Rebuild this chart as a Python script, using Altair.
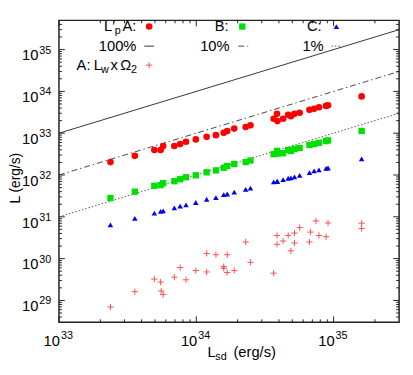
import altair as alt
import pandas as pd

W, H = 347, 308
FONT = "Liberation Sans"
X_DOMAIN = [1e33, 3e35]
Y_DOMAIN = [3e28, 5e35]

# Spin-down luminosities shared by series A (L'p), B and C
lsd = [2.37e33, 3.57e33, 4.95e33, 5.50e33, 5.74e33, 6.92e33, 7.63e33, 8.42e33, 9.92e33,
       1.19e34, 1.39e34, 1.585e34, 1.68e34, 1.89e34, 2.29e34, 2.48e34, 3.66e34, 3.87e34,
       3.90e34, 4.29e34, 4.67e34, 4.89e34, 5.19e34, 5.66e34, 6.67e34, 7.21e34, 7.82e34,
       8.81e34, 9.11e34, 1.60e35]
lp_a = [2.04e32, 2.87e32, 3.97e32, 3.97e32, 4.94e32, 4.94e32, 5.50e32, 6.23e32, 7.10e32,
        8.18e32, 8.97e32, 1.02e33, 1.13e33, 1.29e33, 1.41e33, 1.54e33, 2.22e33, 2.91e33,
        1.95e33, 2.22e33, 2.76e33, 2.56e33, 2.91e33, 3.08e33, 3.62e33, 3.82e33, 4.17e33,
        4.50e33, 4.65e33, 7.58e33]
l_b = [2.82e31, 3.99e31, 5.53e31, 5.72e31, 6.37e31, 7.10e31, 7.92e31, 8.83e31, 9.84e31,
       1.16e32, 1.29e32, 1.49e32, 1.64e32, 1.83e32, 2.04e32, 2.22e32, 3.15e32, 3.76e32,
       3.25e32, 3.32e32, 3.97e32, 3.76e32, 4.20e32, 4.43e32, 5.21e32, 5.50e32, 5.90e32,
       6.48e32, 6.73e32, 1.13e33]
l_c = [6.41e30, 9.22e30, 1.23e31, 1.35e31, 1.39e31, 1.64e31, 1.80e31, 1.93e31, 2.20e31,
       2.63e31, 2.88e31, 3.40e31, 3.51e31, 3.91e31, 4.52e31, 4.86e31, 6.88e31, 6.99e31,
       7.05e31, 7.79e31, 8.36e31, 8.54e31, 9.02e31, 9.84e31, 1.14e32, 1.25e32, 1.32e32,
       1.44e32, 1.47e32, 2.44e32]

# A: Lw x Omega_2
w_lsd = [2.37e33, 3.57e33, 4.95e33, 5.50e33, 5.55e33, 5.74e33, 6.92e33, 7.63e33, 8.42e33,
         9.92e33, 1.19e34, 1.19e34, 1.39e34, 1.585e34, 1.585e34, 1.68e34, 1.68e34, 1.89e34,
         2.29e34, 2.48e34, 3.66e34, 3.87e34, 3.87e34, 4.29e34, 4.67e34, 4.89e34, 5.19e34,
         5.19e34, 5.66e34, 6.67e34, 6.78e34, 7.44e34, 7.82e34, 8.81e34, 9.11e34, 1.60e35,
         1.60e35]
w_l = [6.95e28, 1.62e29, 3.23e29, 2.75e29, 1.68e29, 1.38e29, 3.60e29, 6.10e29, 3.11e29,
       5.18e29, 1.33e30, 4.80e29, 1.24e30, 6.44e29, 5.87e29, 1.24e30, 4.65e29, 5.18e29,
       2.50e30, 8.14e29, 4.48e29, 3.58e30, 2.20e30, 2.64e30, 3.58e30, 1.54e30, 4.08e30,
       2.37e30, 5.53e30, 2.50e30, 4.31e30, 7.96e30, 3.58e30, 3.34e30, 7.14e30, 7.03e30,
       5.24e30]

# efficiency reference lines (100%, 10%, 1%)
ref_lsd = [1e33, 3e35]
ref_100 = [1e33, 3e35]
ref_10 = [1e32, 3e34]
ref_1 = [1e31, 3e33]

x_major = [1e33, 1e34, 1e35]
x_exp = ["33", "34", "35"]
y_major = [1e29, 1e30, 1e31, 1e32, 1e33, 1e34, 1e35]
y_exp = ["29", "30", "31", "32", "33", "34", "35"]
x_minor = [m * 10.0 ** k for k in (33, 34) for m in range(2, 10)] + [2e35]
y_minor = ([m * 1e28 for m in range(4, 10)]
           + [m * 10.0 ** k for k in range(29, 35) for m in range(2, 10)]
           + [2e35, 3e35, 4e35])

RED, GREEN, BLUE = "#ff0000", "#00e000", "#0000f0"
FRAME = "#222222"
DASH_10 = [6, 3, 1.5, 3]
DASH_1 = [1.5, 2]
PLUS = "M-1,0H1M0,-1V1"


def xsc():
    return alt.Scale(type="log", domain=X_DOMAIN, nice=False)


def ysc():
    return alt.Scale(type="log", domain=Y_DOMAIN, nice=False)


def X(f):
    return alt.X(f, type="quantitative", scale=xsc(), axis=None)


def Y(f):
    return alt.Y(f, type="quantitative", scale=ysc(), axis=None)


ONE = alt.Data(values=[{}])


def txt(s, x, y, size=15, align="left", angle=None, baseline="alphabetic"):
    kw = dict(text=s, font=FONT, fontSize=size, align=align, baseline=baseline, color="#000")
    if angle is not None:
        kw["angle"] = angle
    return alt.Chart(ONE).mark_text(**kw).encode(x=alt.value(x), y=alt.value(y))


layers = []

# reference lines
for vals, dash, col in [(ref_100, None, "#333333"), (ref_10, DASH_10, "#444444"), (ref_1, DASH_1, "#555555")]:
    df = pd.DataFrame({"lsd": ref_lsd, "l": vals})
    kw = dict(color=col, strokeWidth=1)
    if dash:
        kw["strokeDash"] = dash
    layers.append(alt.Chart(df).mark_line(**kw).encode(x=X("lsd"), y=Y("l")))

# data series
df_a = pd.DataFrame({"lsd": lsd, "l": lp_a})
df_b = pd.DataFrame({"lsd": lsd, "l": l_b})
df_c = pd.DataFrame({"lsd": lsd, "l": l_c})
df_w = pd.DataFrame({"lsd": w_lsd, "l": w_l})

layers.append(alt.Chart(df_w).mark_point(shape=PLUS, filled=False, size=40, strokeWidth=1,
                                         color="#ff3030", opacity=0.85).encode(x=X("lsd"), y=Y("l")))
layers.append(alt.Chart(df_c).mark_point(shape="triangle-up", filled=True, size=32, color=BLUE,
                                         opacity=1).encode(x=X("lsd"), y=Y("l")))
layers.append(alt.Chart(df_b).mark_point(shape="square", filled=True, size=42, color=GREEN,
                                         opacity=1).encode(x=X("lsd"), y=Y("l")))
layers.append(alt.Chart(df_a).mark_point(shape="circle", filled=True, size=46, color=RED,
                                         opacity=1).encode(x=X("lsd"), y=Y("l")))

# ticks (inward, mirrored)
dfx_maj = pd.DataFrame({"v": x_major, "e": x_exp})
dfy_maj = pd.DataFrame({"v": y_major, "e": y_exp})
dfx_min = pd.DataFrame({"v": x_minor})
dfy_min = pd.DataFrame({"v": y_minor})
for df, ln in [(dfx_maj, 6), (dfx_min, 3)]:
    layers.append(alt.Chart(df).mark_rule(color=FRAME, strokeWidth=1).encode(
        x=X("v"), y=alt.value(H), y2=alt.value(H - ln)))
    layers.append(alt.Chart(df).mark_rule(color=FRAME, strokeWidth=1).encode(
        x=X("v"), y=alt.value(0), y2=alt.value(ln)))
for df, ln in [(dfy_maj, 6), (dfy_min, 3)]:
    layers.append(alt.Chart(df).mark_rule(color=FRAME, strokeWidth=1).encode(
        y=Y("v"), x=alt.value(0), x2=alt.value(ln)))
    layers.append(alt.Chart(df).mark_rule(color=FRAME, strokeWidth=1).encode(
        y=Y("v"), x=alt.value(W), x2=alt.value(W - ln)))

# tick labels
layers.append(alt.Chart(dfx_maj).mark_text(text="10", font=FONT, fontSize=15, align="right",
                                           baseline="alphabetic", dx=1, color="#000").encode(
    x=X("v"), y=alt.value(H + 24)))
layers.append(alt.Chart(dfx_maj).mark_text(font=FONT, fontSize=11, align="left",
                                           baseline="alphabetic", dx=2, color="#000").encode(
    x=X("v"), y=alt.value(H + 17), text="e:N"))
layers.append(alt.Chart(dfy_maj).mark_text(text="10", font=FONT, fontSize=15, align="right",
                                           baseline="alphabetic", dy=11, color="#000").encode(
    y=Y("v"), x=alt.value(-21)))
layers.append(alt.Chart(dfy_maj).mark_text(font=FONT, fontSize=11, align="left",
                                           baseline="alphabetic", dy=4, color="#000").encode(
    y=Y("v"), x=alt.value(-20), text="e:N"))

# axis titles
layers.append(txt("L (erg/s)", -40, 161, size=14, align="center", angle=270, baseline="alphabetic"))
layers.append(txt("L", 151.5, 343))
layers.append(txt("sd", 159.5, 346, size=11))
layers.append(txt("(erg/s)", 178, 343))

# legend
R1, R2, R3 = 11, 31, 50.5
layers.append(txt("L\u2032", 46, R1))
layers.append(txt("p", 57, R1 + 3, size=11))
layers.append(txt("A:", 79, R1, align="right"))
layers.append(txt("B:", 173, R1, align="right"))
layers.append(txt("C:", 268, R1, align="right"))
layers.append(txt("100%", 79, R2, align="right"))
layers.append(txt("10%", 174, R2, align="right"))
layers.append(txt("1%", 270, R2, align="right"))
layers.append(txt("A:", 18, R3))
layers.append(txt("L", 35.5, R3))
layers.append(txt("w", 43, R3 + 3, size=11))
layers.append(txt("x", 52.5, R3))
layers.append(txt("\u03a9", 62.5, R3))
layers.append(txt("2", 73.5, R3 + 3, size=11))

layers.append(alt.Chart(ONE).mark_point(shape="circle", filled=True, size=46, color=RED, opacity=1)
              .encode(x=alt.value(92), y=alt.value(6.3)))
layers.append(alt.Chart(ONE).mark_point(shape="square", filled=True, size=42, color=GREEN, opacity=1)
              .encode(x=alt.value(187), y=alt.value(6.3)))
layers.append(alt.Chart(ONE).mark_point(shape="triangle-up", filled=True, size=32, color=BLUE, opacity=1)
              .encode(x=alt.value(283), y=alt.value(6.3)))
layers.append(alt.Chart(ONE).mark_point(shape=PLUS, filled=False, size=40, strokeWidth=1,
                                        color="#ff3030", opacity=0.85)
              .encode(x=alt.value(92), y=alt.value(45.7)))
for x0, dash, col in [(87, None, "#333333"), (183, DASH_10, "#444444"), (278, DASH_1, "#555555")]:
    kw = dict(color=col, strokeWidth=1)
    if dash:
        kw["strokeDash"] = dash
    layers.append(alt.Chart(ONE).mark_rule(**kw).encode(
        x=alt.value(x0), x2=alt.value(x0 + 10), y=alt.value(26.3)))

chart = alt.layer(*layers).properties(
    width=W, height=H,
    autosize=alt.AutoSizeParams(type="none"),
    padding={"left": 52, "top": 9, "right": 6, "bottom": 42},
).configure_view(stroke=FRAME, strokeWidth=1.5)

chart.save("out.html", embed_options={"renderer": "svg", "actions": False})
